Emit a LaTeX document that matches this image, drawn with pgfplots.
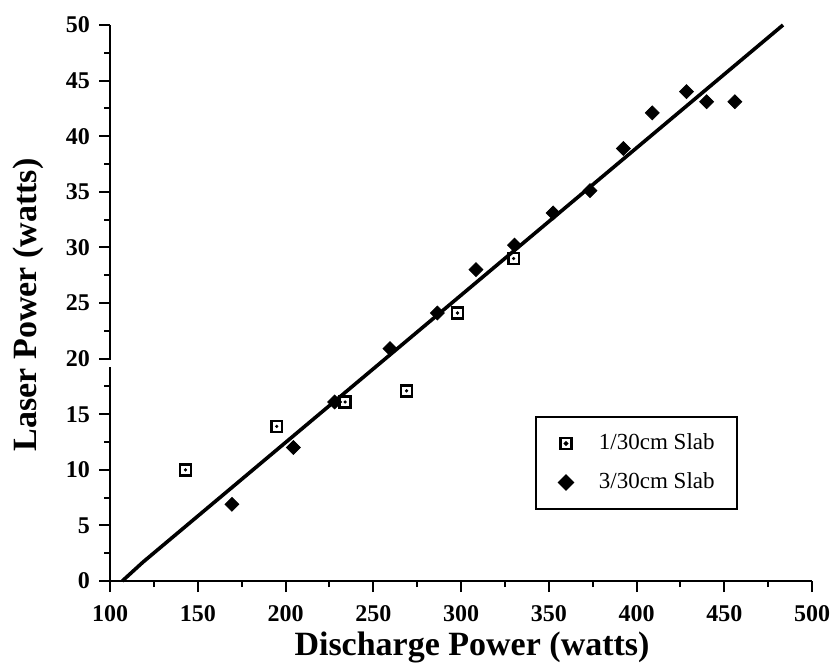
\documentclass[border=0pt]{standalone}
\usepackage{fontspec}
\setmainfont{Liberation Serif}
\usepackage{pgfplots}
\pgfplotsset{compat=1.18}
\pgfplotsset{
  sqleg/.style={legend image code/.code={\path[draw=none,fill=none] (-6pt,0pt) rectangle (14.5pt,0.1pt); \draw[##1] plot coordinates {(0pt,0pt)}; \fill[black] (0pt,0pt) circle (0.6pt);}},
  dmleg/.style={legend image code/.code={\path[draw=none,fill=none] (-6pt,0pt) rectangle (14.5pt,0.1pt); \draw[##1] plot coordinates {(0pt,0pt)};}},
}
\begin{document}
\begin{tikzpicture}
\begin{axis}[
  scale only axis, width=351pt, height=278pt,
  xmin=100, xmax=500, ymin=0, ymax=50,
  axis lines*=left,
  axis line style={line width=1.3pt},
  xtick={100,150,...,500}, ytick={0,5,...,50},
  minor x tick num=1, minor y tick num=1,
  tick align=outside,
  major tick length=5.5pt, minor tick length=3pt,
  tick style={line width=1pt, black},
  /pgf/number format/assume math mode=true,
  ticklabel style={font=\fontsize{12}{14}\selectfont\bfseries},
  xticklabel style={inner xsep=0pt, yshift=-3.3pt},
  yticklabel style={xshift=-1pt},
  xlabel={Discharge Power (watts)},
  ylabel={Laser Power (watts)},
  label style={font=\fontsize{17}{20}\selectfont\bfseries, inner sep=0pt},
  xlabel style={at={(axis description cs:0.5,0)}, anchor=base, yshift=-37pt, xshift=5.5pt},
  ylabel style={at={(axis description cs:0,0.5)}, anchor=north, yshift=48.5pt, xshift=-1pt},
  clip=false,
  legend style={at={(0.6054,0.2968)}, anchor=north west, draw=black, line width=1pt,
    font=\fontsize{11.5}{14}\selectfont, row sep=6pt, inner xsep=9pt, inner ysep=6.5pt,
    nodes={inner sep=2pt}},
  legend cell align=left,
]
\addplot[only marks, mark=square, mark size=2.7pt, mark options={line width=1.3pt, fill=white}, sqleg] coordinates {
 (143,10) (195,13.9) (234,16.1) (269,17.1) (298,24.1) (330,29.0)
};
\addlegendentry{1/30cm Slab}
\addplot[only marks, mark=square*, mark size=2.45pt, mark options={rotate=45}, dmleg] coordinates {
 (169.5,6.9) (204.5,12.0) (228,16.1) (259.5,20.9) (286.5,24.1) (308.5,28.0)
 (330.5,30.2) (352.5,33.1) (373.5,35.1) (392.5,38.9) (409,42.1) (428.5,44.0)
 (440,43.1) (456,43.1)
};
\addlegendentry{3/30cm Slab}
\addplot[only marks, mark=*, mark size=0.6pt, forget plot] coordinates {
 (143,10) (195,13.9) (234,16.1) (269,17.1) (298,24.1) (330,29.0)
};
\addplot[no marks, line width=1.8pt, forget plot] coordinates {
 (107,0) (118.8,1.7) (483.5,50)
};
\draw[white, line width=3pt] (axis cs:100,19.25) -- (axis cs:100,19.85);
\path ([shift={(-55pt,-43.5pt)}]rel axis cs:0,0) rectangle ([shift={(10pt,12.5pt)}]rel axis cs:1,1);
\end{axis}
\end{tikzpicture}
\end{document}
